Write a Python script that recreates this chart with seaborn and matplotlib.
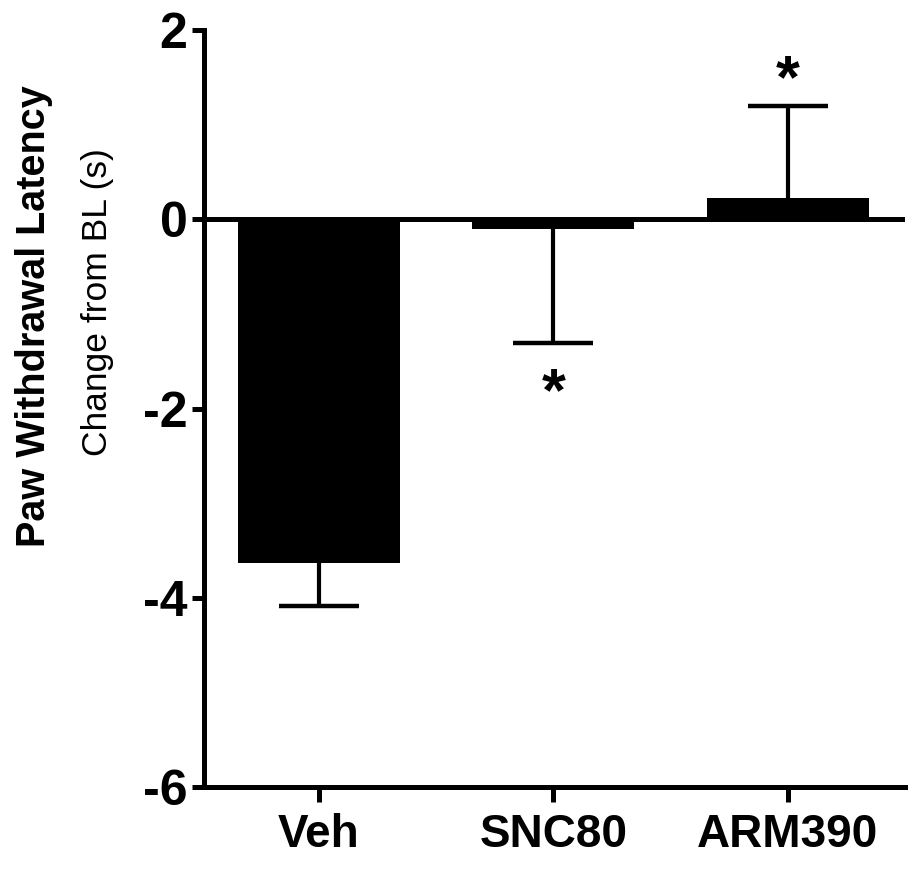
import matplotlib
matplotlib.use("Agg")
import matplotlib.pyplot as plt
import seaborn as sns

# --- DATOS ---
grupos = ['Veh', 'SNC80', 'ARM390']
medias = [-3.63, -0.10, 0.22]
error_abajo = [0.46, 1.21, 0.0]
error_arriba = [0.0, 0.0, 0.98]
asteriscos = ['', '*', '*']
pos_asterisco = [0, -1.85, 1.45]
y_ticks = [-6, -4, -2, 0, 2]

# --- CONFIGURACIÓN ---
sns.set_style("ticks")
plt.rcParams['font.family'] = ['Liberation Sans', 'DejaVu Sans']
plt.rcParams['axes.unicode_minus'] = False
plt.rcParams['text.color'] = 'black'
plt.rcParams['xtick.color'] = 'black'
plt.rcParams['ytick.color'] = 'black'
plt.rcParams['axes.edgecolor'] = 'black'

fig = plt.figure(figsize=(9.23, 8.77), dpi=100)
ax = fig.add_axes([0.221, 0.1026, 0.7595, 0.8632])

sns.barplot(x=grupos, y=medias, color='black', saturation=1, width=0.69,
            edgecolor='black', linewidth=0, ax=ax)

# barras de error de un solo lado (sin tapa en el lado de la barra)
for i in range(len(grupos)):
    eb = ax.errorbar(i, medias[i], yerr=[[error_abajo[i]], [error_arriba[i]]],
                     fmt='none', ecolor='black', elinewidth=3, capsize=29, capthick=3.2)
    tapas = eb[1]
    if error_abajo[i] == 0:
        tapas[0].set_visible(False)
    if error_arriba[i] == 0:
        tapas[1].set_visible(False)

for i, s in enumerate(asteriscos):
    if s:
        ax.text(i, pos_asterisco[i], s, ha='center', va='center',
                fontsize=44, fontweight='bold')

ax.axhline(0, color='black', lw=3.6, zorder=3)

ax.set_xlim(-0.49, 2.5)
ax.set_ylim(-6, 2)
ax.set_yticks(y_ticks)
ax.set_yticklabels([str(t) for t in y_ticks], fontsize=36, fontweight='bold')
ax.set_xticks(range(len(grupos)))
ax.set_xticklabels(grupos, fontsize=33, fontweight='bold')
ax.tick_params(axis='both', width=3.6, length=9, pad=3)
ax.tick_params(axis='x', length=11, pad=8)
ax.set_xlabel('')
ax.set_ylabel('')

sns.despine(ax=ax)
for lado in ['left', 'bottom']:
    ax.spines[lado].set_linewidth(3.6)

fig.text(0.037, 0.64, 'Paw Withdrawal Latency', rotation=90, ha='center', va='center',
         fontsize=28.5, fontweight='bold')
fig.text(0.106, 0.656, 'Change from BL (s)', rotation=90, ha='center', va='center',
         fontsize=25.5)

plt.savefig('out.png', dpi=100)
plt.close()
